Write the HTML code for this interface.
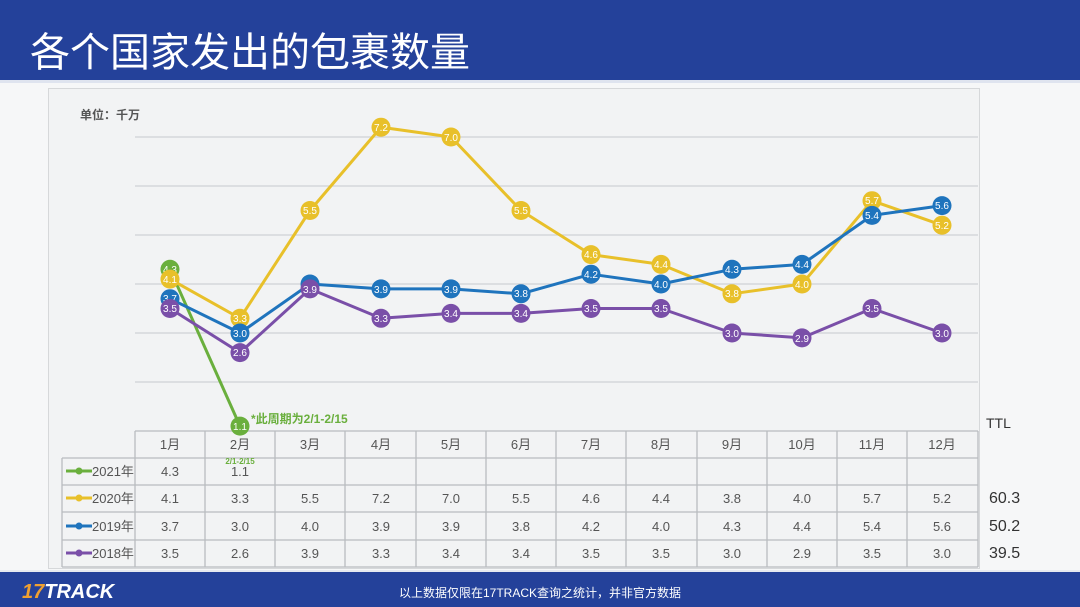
<!DOCTYPE html>
<html><head><meta charset="utf-8"><style>
html,body{margin:0;padding:0;background:#f6f7f8;}
svg{display:block;font-family:"Liberation Sans","Noto Sans CJK SC",sans-serif;}
</style></head><body>
<svg width="1080" height="607" viewBox="0 0 1080 607" xmlns="http://www.w3.org/2000/svg">
<rect x="0" y="0" width="1080" height="607" fill="#f6f7f8"/>
<rect x="0" y="0" width="1080" height="82" fill="#24419a"/>
<rect x="0" y="80" width="1080" height="3" fill="#dfe4ef"/>
<text x="30" y="66" font-size="40" fill="#fff" font-family="'Noto Sans CJK SC',sans-serif">各个国家发出的包裹数量</text>
<rect x="48.5" y="88.5" width="931" height="480" fill="#f2f3f4" stroke="#d6d8da"/>
<text x="80" y="119" font-size="12" font-weight="bold" fill="#555">单位：千万</text>
<g stroke="#cfd2d5" stroke-width="1.2">
<line x1="135" y1="137" x2="978" y2="137"/><line x1="135" y1="186" x2="978" y2="186"/>
<line x1="135" y1="235" x2="978" y2="235"/><line x1="135" y1="284" x2="978" y2="284"/>
<line x1="135" y1="333" x2="978" y2="333"/><line x1="135" y1="382" x2="978" y2="382"/>
</g>
<!-- table -->
<g stroke="#b9bcbf" stroke-width="1.3" fill="none">
<line x1="135" y1="431" x2="978" y2="431"/>
<line x1="62" y1="458" x2="978" y2="458"/>
<line x1="62" y1="485" x2="978" y2="485"/>
<line x1="62" y1="512" x2="978" y2="512"/>
<line x1="62" y1="540" x2="978" y2="540"/>
<line x1="62" y1="567" x2="978" y2="567"/>
<line x1="62" y1="458" x2="62" y2="567"/>
<line x1="135" y1="431" x2="135" y2="567"/><line x1="205" y1="431" x2="205" y2="567"/>
<line x1="275" y1="431" x2="275" y2="567"/><line x1="345" y1="431" x2="345" y2="567"/>
<line x1="416" y1="431" x2="416" y2="567"/><line x1="486" y1="431" x2="486" y2="567"/>
<line x1="556" y1="431" x2="556" y2="567"/><line x1="626" y1="431" x2="626" y2="567"/>
<line x1="697" y1="431" x2="697" y2="567"/><line x1="767" y1="431" x2="767" y2="567"/>
<line x1="837" y1="431" x2="837" y2="567"/><line x1="907" y1="431" x2="907" y2="567"/>
<line x1="978" y1="431" x2="978" y2="567"/>
</g>
<g font-size="13" fill="#555" text-anchor="middle">
<text x="170" y="449">1月</text><text x="240" y="449">2月</text><text x="310" y="449">3月</text><text x="381" y="449">4月</text><text x="451" y="449">5月</text><text x="521" y="449">6月</text><text x="591" y="449">7月</text><text x="661" y="449">8月</text><text x="732" y="449">9月</text><text x="802" y="449">10月</text><text x="872" y="449">11月</text><text x="942" y="449">12月</text>
<text x="170" y="476">4.3</text><text x="240" y="476">1.1</text>
<text x="170" y="503">4.1</text><text x="240" y="503">3.3</text><text x="310" y="503">5.5</text><text x="381" y="503">7.2</text><text x="451" y="503">7.0</text><text x="521" y="503">5.5</text><text x="591" y="503">4.6</text><text x="661" y="503">4.4</text><text x="732" y="503">3.8</text><text x="802" y="503">4.0</text><text x="872" y="503">5.7</text><text x="942" y="503">5.2</text>
<text x="170" y="531">3.7</text><text x="240" y="531">3.0</text><text x="310" y="531">4.0</text><text x="381" y="531">3.9</text><text x="451" y="531">3.9</text><text x="521" y="531">3.8</text><text x="591" y="531">4.2</text><text x="661" y="531">4.0</text><text x="732" y="531">4.3</text><text x="802" y="531">4.4</text><text x="872" y="531">5.4</text><text x="942" y="531">5.6</text>
<text x="170" y="558">3.5</text><text x="240" y="558">2.6</text><text x="310" y="558">3.9</text><text x="381" y="558">3.3</text><text x="451" y="558">3.4</text><text x="521" y="558">3.4</text><text x="591" y="558">3.5</text><text x="661" y="558">3.5</text><text x="732" y="558">3.0</text><text x="802" y="558">2.9</text><text x="872" y="558">3.5</text><text x="942" y="558">3.0</text>
</g>
<text x="240" y="464" font-size="8" fill="#6aaf3d" font-weight="bold" text-anchor="middle">2/1-2/15</text>
<g font-size="13" fill="#555">
<line x1="66" y1="471" x2="92" y2="471" stroke="#6aaf3d" stroke-width="3"/><circle cx="79" cy="471" r="3.5" fill="#6aaf3d"/><text x="92" y="476">2021年</text>
<line x1="66" y1="498" x2="92" y2="498" stroke="#e8c02a" stroke-width="3"/><circle cx="79" cy="498" r="3.5" fill="#e8c02a"/><text x="92" y="503">2020年</text>
<line x1="66" y1="526" x2="92" y2="526" stroke="#1f74bd" stroke-width="3"/><circle cx="79" cy="526" r="3.5" fill="#1f74bd"/><text x="92" y="531">2019年</text>
<line x1="66" y1="553" x2="92" y2="553" stroke="#7a4fa8" stroke-width="3"/><circle cx="79" cy="553" r="3.5" fill="#7a4fa8"/><text x="92" y="558">2018年</text>
</g>
<text x="986" y="428" font-size="14" fill="#333">TTL</text>
<g font-size="16" fill="#333"><text x="989" y="503">60.3</text><text x="989" y="531">50.2</text><text x="989" y="558">39.5</text></g>
<!-- series -->
<g fill="none" stroke-width="3" stroke-linejoin="round">
<polyline stroke="#6aaf3d" points="170,269.3 240,426.1"/>
<polyline stroke="#e8c02a" points="170,279.1 240,318.3 310,210.5 381,127.2 451,137 521,210.5 591,254.6 661,264.4 732,293.8 802,284 872,200.7 942,225.2"/>
<polyline stroke="#1f74bd" points="170,298.7 240,333 310,284 381,288.9 451,288.9 521,293.8 591,274.2 661,284 732,269.3 802,264.4 872,215.4 942,205.6"/>
<polyline stroke="#7a4fa8" points="170,308.5 240,352.6 310,288.9 381,318.3 451,313.4 521,313.4 591,308.5 661,308.5 732,333 802,337.9 872,308.5 942,333"/>
</g>
<g font-size="10" fill="#fff" text-anchor="middle">
<g fill="#6aaf3d"><circle cx="170" cy="269.3" r="9.5"/><circle cx="240" cy="426.1" r="9.5"/></g>
<text x="170" y="273">4.3</text><text x="240" y="430">1.1</text>
<g fill="#e8c02a"><circle cx="170" cy="279.1" r="9.5"/><circle cx="240" cy="318.3" r="9.5"/><circle cx="310" cy="210.5" r="9.5"/><circle cx="381" cy="127.2" r="9.5"/><circle cx="451" cy="137" r="9.5"/><circle cx="521" cy="210.5" r="9.5"/><circle cx="591" cy="254.6" r="9.5"/><circle cx="661" cy="264.4" r="9.5"/><circle cx="732" cy="293.8" r="9.5"/><circle cx="802" cy="284" r="9.5"/><circle cx="872" cy="200.7" r="9.5"/><circle cx="942" cy="225.2" r="9.5"/></g>
<text x="170" y="283">4.1</text><text x="240" y="322">3.3</text><text x="310" y="214">5.5</text><text x="381" y="131">7.2</text><text x="451" y="141">7.0</text><text x="521" y="214">5.5</text><text x="591" y="258">4.6</text><text x="661" y="268">4.4</text><text x="732" y="297">3.8</text><text x="802" y="288">4.0</text><text x="872" y="204">5.7</text><text x="942" y="229">5.2</text>
<g fill="#1f74bd"><circle cx="170" cy="298.7" r="9.5"/><circle cx="240" cy="333" r="9.5"/><circle cx="310" cy="284" r="9.5"/><circle cx="381" cy="288.9" r="9.5"/><circle cx="451" cy="288.9" r="9.5"/><circle cx="521" cy="293.8" r="9.5"/><circle cx="591" cy="274.2" r="9.5"/><circle cx="661" cy="284" r="9.5"/><circle cx="732" cy="269.3" r="9.5"/><circle cx="802" cy="264.4" r="9.5"/><circle cx="872" cy="215.4" r="9.5"/><circle cx="942" cy="205.6" r="9.5"/></g>
<text x="170" y="302">3.7</text><text x="240" y="337">3.0</text><text x="310" y="288">4.0</text><text x="381" y="293">3.9</text><text x="451" y="293">3.9</text><text x="521" y="297">3.8</text><text x="591" y="278">4.2</text><text x="661" y="288">4.0</text><text x="732" y="273">4.3</text><text x="802" y="268">4.4</text><text x="872" y="219">5.4</text><text x="942" y="209">5.6</text>
<g fill="#7a4fa8"><circle cx="170" cy="308.5" r="9.5"/><circle cx="240" cy="352.6" r="9.5"/><circle cx="310" cy="288.9" r="9.5"/><circle cx="381" cy="318.3" r="9.5"/><circle cx="451" cy="313.4" r="9.5"/><circle cx="521" cy="313.4" r="9.5"/><circle cx="591" cy="308.5" r="9.5"/><circle cx="661" cy="308.5" r="9.5"/><circle cx="732" cy="333" r="9.5"/><circle cx="802" cy="337.9" r="9.5"/><circle cx="872" cy="308.5" r="9.5"/><circle cx="942" cy="333" r="9.5"/></g>
<text x="170" y="312">3.5</text><text x="240" y="356">2.6</text><text x="310" y="293">3.9</text><text x="381" y="322">3.3</text><text x="451" y="317">3.4</text><text x="521" y="317">3.4</text><text x="591" y="312">3.5</text><text x="661" y="312">3.5</text><text x="732" y="337">3.0</text><text x="802" y="342">2.9</text><text x="872" y="312">3.5</text><text x="942" y="337">3.0</text>
</g>
<text x="251" y="423" font-size="12" font-weight="bold" fill="#6aaf3d">*此周期为2/1-2/15</text>
<!-- footer -->
<rect x="0" y="572" width="1080" height="35" fill="#24419a"/>
<rect x="0" y="570" width="1080" height="2" fill="#e6e9f0"/>
<text x="22" y="598" font-size="20" font-weight="bold" fill="#fff" font-style="italic"><tspan fill="#f0a030">17</tspan>TRACK</text>
<text x="540" y="597" font-size="12" fill="#fff" text-anchor="middle">以上数据仅限在17TRACK查询之统计，并非官方数据</text>
</svg>
</body></html>
